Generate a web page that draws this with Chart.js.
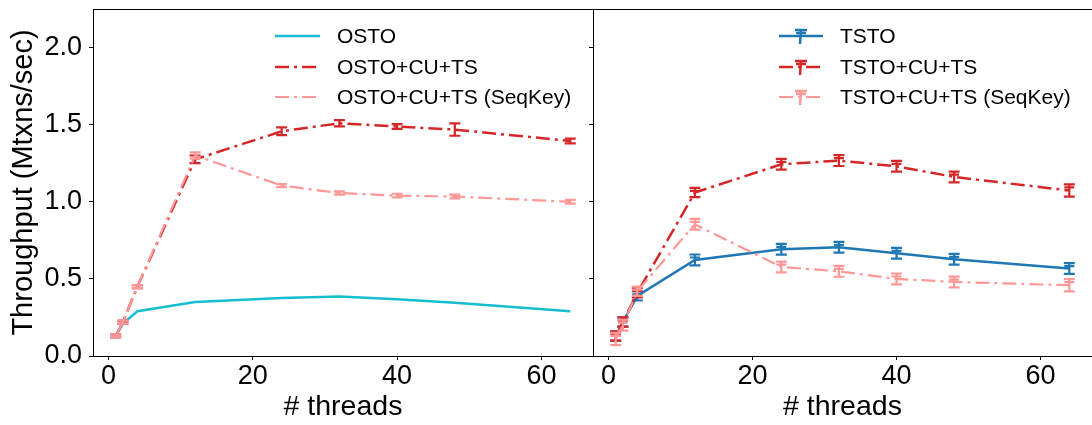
<!DOCTYPE html>
<html>
<head>
<meta charset="utf-8">
<script src="https://cdn.jsdelivr.net/npm/chart.js@4/dist/chart.umd.min.js"></script>
<style>
  html, body { margin: 0; padding: 0; background: #fff; overflow: hidden; }
  #wrap { position: relative; width: 1092px; height: 425px; overflow: hidden; }
  #left  { position: absolute; left: 0;     top: 0; }
  #right { position: absolute; left: 583px; top: 0; }
</style>
</head>
<body>
<div id="wrap">
  <canvas id="left" width="600" height="425"></canvas>
  <canvas id="right" width="520" height="425"></canvas>
</div>
<script>
/* ── data ─────────────────────────────────────────────────────────── */

const threads = [1, 2, 4, 12, 24, 32, 40, 48, 64];

// left panel
const osto        = [0.13, 0.21, 0.29, 0.35, 0.376, 0.385, 0.368, 0.346, 0.29];
const ostoCuTs    = [0.13, 0.22, 0.45, 1.275, 1.457, 1.509, 1.488, 1.468, 1.394];
const ostoCuTsErr = [0.01, 0.01, 0.01, 0.025, 0.025, 0.02, 0.015, 0.04, 0.015];
const ostoSeq     = [0.13, 0.22, 0.45, 1.30, 1.105, 1.057, 1.04, 1.034, 1.0];
const ostoSeqErr  = [0.01, 0.01, 0.01, 0.02, 0.01, 0.01, 0.012, 0.012, 0.012];

// right panel
const tsto        = [0.13, 0.22, 0.39, 0.623, 0.692, 0.705, 0.666, 0.627, 0.567];
const tstoErr     = [0.03, 0.03, 0.03, 0.035, 0.035, 0.035, 0.035, 0.035, 0.035];
const tstoCuTs    = [0.13, 0.22, 0.41, 1.06, 1.243, 1.267, 1.23, 1.161, 1.073];
const tstoCuTsErr = [0.03, 0.03, 0.03, 0.03, 0.035, 0.035, 0.035, 0.035, 0.04];
const tstoSeq     = [0.11, 0.20, 0.42, 0.854, 0.577, 0.549, 0.50, 0.48, 0.459];
const tstoSeqErr  = [0.04, 0.035, 0.03, 0.035, 0.035, 0.035, 0.035, 0.035, 0.04];

const xTicks = [0, 20, 40, 60];
const yTicks = [0, 0.5, 1.0, 1.5, 2.0];
const X_MIN = -2.15, X_MAX = 67.15;
const Y_MIN = 0, Y_MAX = 2.25;

/* ── styles ───────────────────────────────────────────────────────── */

const FAMILY   = '"Liberation Sans", Arial, sans-serif';
const C_CYAN   = '#17becf';
const C_BLUE   = '#1f77b4';
const C_RED    = '#d62728';
const C_PINK   = '#ff9896';
const DASHDOT  = [14, 5, 3, 5];

const pts = vals => threads.map((t, i) => ({ x: t, y: vals[i] }));

// ── plugins ─────────────────────────────────────────────────────────

const errorBars = {
  id: 'errorBars',
  afterDatasetDraw(chart, args) {
    const ds = chart.data.datasets[args.index];
    if (!ds.err) return;
    const { ctx, scales: { x, y } } = chart;
    ctx.save();
    ctx.strokeStyle = ds.borderColor;
    ctx.lineWidth = 2.2;
    ctx.setLineDash([]);
    ds.data.forEach((p, i) => {
      const e = ds.err[i];
      if (!e) return;
      const px  = x.getPixelForValue(p.x);
      const top = y.getPixelForValue(p.y + e);
      const bot = y.getPixelForValue(p.y - e);
      ctx.beginPath();
      ctx.moveTo(px, top);     ctx.lineTo(px, bot);
      ctx.moveTo(px - 5.5, top); ctx.lineTo(px + 5.5, top);
      ctx.moveTo(px - 5.5, bot); ctx.lineTo(px + 5.5, bot);
      if (ds.doubleCap) { ctx.moveTo(px - 5, top + 3); ctx.lineTo(px + 5, top + 3); }
      ctx.stroke();
    });
    ctx.restore();
  },
};

// matplotlib-like frame on all four sides
const frame = {
  id: 'frame',
  afterDatasetsDraw(chart) {
    const { ctx, chartArea: a } = chart;
    ctx.save();
    ctx.strokeStyle = '#000';
    ctx.lineWidth = 1;
    ctx.strokeRect(Math.round(a.left) + 0.5, Math.round(a.top) + 0.5,
                   Math.round(a.right - a.left), Math.round(a.bottom - a.top));
    ctx.restore();
  },
};

// legend drawn as a left-aligned column inside the plot
const panelLegend = {
  id: 'panelLegend',
  afterDraw(chart, _args, opts) {
    const { ctx } = chart;
    ctx.save();
    chart.data.datasets.forEach((ds, i) => {
      const y = opts.rows[i];
      ctx.strokeStyle = ds.borderColor;
      ctx.lineWidth = ds.borderWidth;
      ctx.setLineDash(ds.borderDash || []);
      ctx.beginPath();
      ctx.moveTo(opts.x0, y);
      ctx.lineTo(opts.x1, y);
      ctx.stroke();
      if (ds.doubleCap) {
        const cx = (opts.x0 + opts.x1) / 2;
        ctx.setLineDash([]);
        ctx.lineWidth = 2.5;
        ctx.beginPath();
        ctx.moveTo(cx - 6, y - 6); ctx.lineTo(cx + 6, y - 6);
        ctx.moveTo(cx - 5, y - 3); ctx.lineTo(cx + 5, y - 3);
        ctx.moveTo(cx, y - 6);     ctx.lineTo(cx - 1, y + 8);
        ctx.stroke();
      }
      ctx.setLineDash([]);
      ctx.fillStyle = '#000';
      ctx.font = `21px ${FAMILY}`;
      ctx.textAlign = 'left';
      ctx.textBaseline = 'middle';
      ctx.fillText(ds.label, opts.xt, y + 1);
    });
    ctx.restore();
  },
};

// ── chart builder ───────────────────────────────────────────────────

function panelOptions(isLeft, legendPos) {
  return {
    responsive: false,
    devicePixelRatio: 1,
    animation: false,
    events: [],
    layout: { padding: { top: 9, bottom: 0, left: 0, right: isLeft ? 7 : 11 } },
    elements: { point: { radius: 0 }, line: { tension: 0 } },
    plugins: {
      legend: { display: false },
      tooltip: { enabled: false },
      panelLegend: legendPos,
    },
    scales: {
      x: {
        type: 'linear',
        min: X_MIN,
        max: X_MAX,
        afterBuildTicks: s => { s.ticks = xTicks.map(v => ({ value: v })); },
        afterFit: s => { s.height = 69; s.paddingLeft = 0; s.paddingRight = 0; },
        ticks: { color: '#000', font: { family: FAMILY, size: 27 }, padding: 0, maxRotation: 0 },
        grid: { drawOnChartArea: false, tickLength: 4, color: '#000', lineWidth: 1 },
        border: { display: false },
        title: {
          display: true, text: '# threads', color: '#000',
          font: { family: FAMILY, size: 28.5 }, padding: { top: 0, bottom: 1 },
        },
      },
      y: {
        min: Y_MIN,
        max: Y_MAX,
        afterBuildTicks: s => { s.ticks = yTicks.map(v => ({ value: v })); },
        afterFit: s => { s.width = isLeft ? 93 : 10; s.paddingTop = 0; s.paddingBottom = 0; },
        ticks: {
          color: isLeft ? '#000' : 'rgba(0,0,0,0)',
          font: { family: FAMILY, size: 27 },
          padding: 7,
          callback: v => v.toFixed(1),
        },
        grid: { drawOnChartArea: false, tickLength: 4, color: '#000', lineWidth: 1 },
        border: { display: false },
        title: {
          display: isLeft, text: 'Throughput (Mtxns/sec)', color: '#000',
          font: { family: FAMILY, size: 29 }, padding: { top: 7, bottom: 0 },
        },
      },
    },
  };
}

const line = (label, vals, color, width, dash, order, extra) => Object.assign({
  label,
  data: pts(vals),
  borderColor: color,
  backgroundColor: color,
  borderWidth: width,
  borderDash: dash,
  fill: false,
  order,
}, extra || {});

new Chart(document.getElementById('left'), {
  type: 'line',
  data: {
    datasets: [
      line('OSTO', osto, C_CYAN, 2.5, [], 3),
      line('OSTO+CU+TS', ostoCuTs, C_RED, 2.5, DASHDOT, 2, { err: ostoCuTsErr }),
      line('OSTO+CU+TS (SeqKey)', ostoSeq, C_PINK, 2.2, DASHDOT, 1, { err: ostoSeqErr }),
    ],
  },
  options: panelOptions(true, { x0: 275, x1: 320, xt: 337, rows: [36, 67, 97] }),
  plugins: [errorBars, frame, panelLegend],
});

new Chart(document.getElementById('right'), {
  type: 'line',
  data: {
    datasets: [
      line('TSTO', tsto, C_BLUE, 2.5, [], 3, { err: tstoErr, doubleCap: true }),
      line('TSTO+CU+TS', tstoCuTs, C_RED, 2.5, DASHDOT, 2, { err: tstoCuTsErr, doubleCap: true }),
      line('TSTO+CU+TS (SeqKey)', tstoSeq, C_PINK, 2.2, DASHDOT, 1, { err: tstoSeqErr, doubleCap: true }),
    ],
  },
  options: panelOptions(false, { x0: 779 - 583, x1: 823 - 583, xt: 840 - 583, rows: [36, 67, 97] }),
  plugins: [errorBars, frame, panelLegend],
});
</script>
</body>
</html>
